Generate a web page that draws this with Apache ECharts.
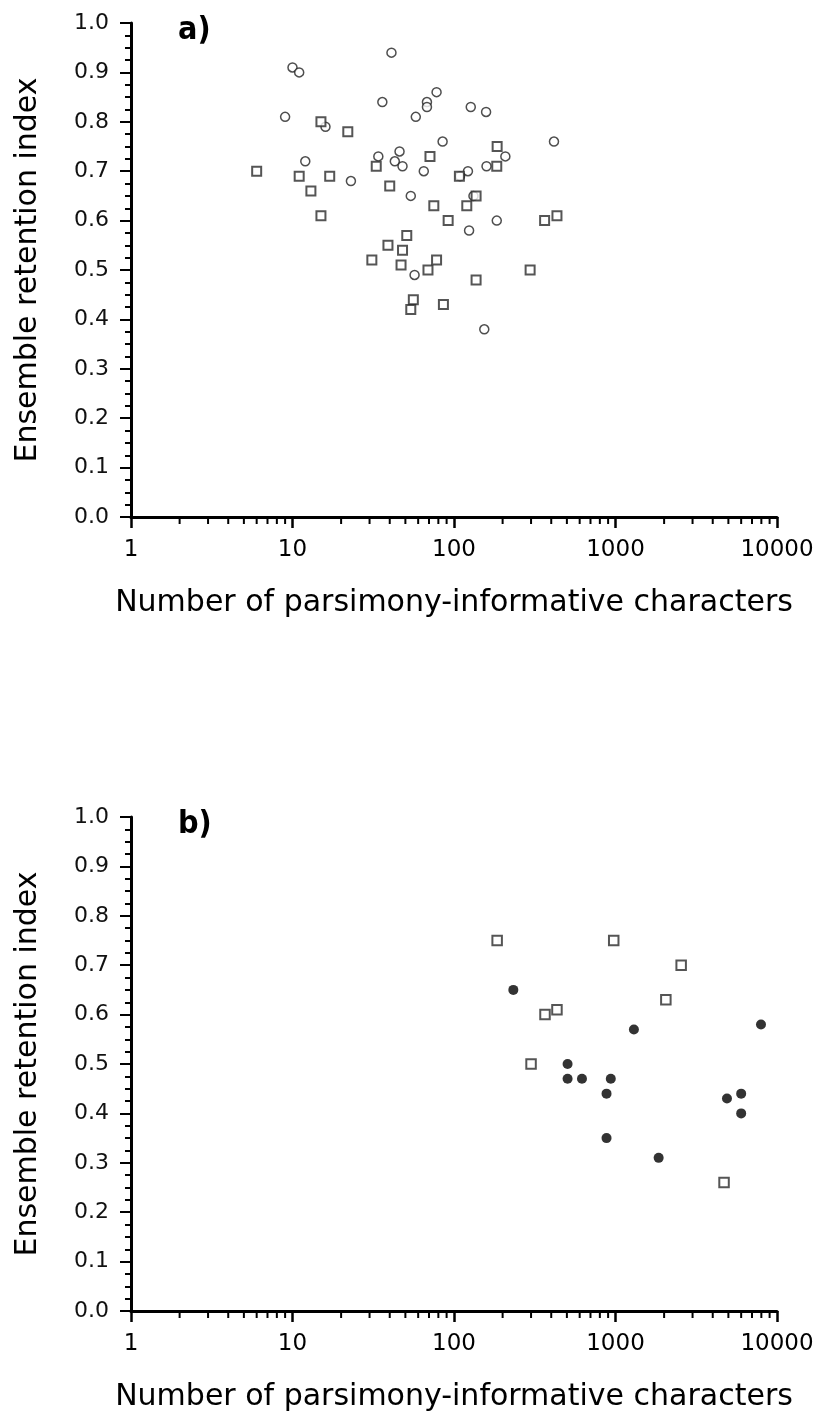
<!DOCTYPE html>
<html>
<head>
<meta charset="utf-8">
<script src="https://cdn.jsdelivr.net/npm/echarts@6/dist/echarts.min.js"></script>
<style>
html,body{margin:0;padding:0;background:#fff;}
#chart{width:819px;height:1416px;}
</style>
</head>
<body>
<div id="chart"></div>
<script>
// ---- data (x = number of parsimony-informative characters, y = ensemble retention index)
var panelAOpenCircles = [
  [41,0.94],[10,0.91],[11,0.90],[36,0.84],[68,0.84],[68,0.83],[78,0.86],[9,0.81],[58,0.81],[16,0.79],
  [85,0.76],[12,0.72],[34,0.73],[46,0.74],[43,0.72],[48,0.71],[65,0.70],[23,0.68],[54,0.65],[57,0.49],
  [127,0.83],[158,0.82],[416,0.76],[208,0.73],[122,0.70],[159,0.71],[109,0.69],[132,0.65],[184,0.60],
  [124,0.58],[154,0.38]
];
var panelAOpenSquares = [
  [6,0.70],[15,0.80],[22,0.78],[11,0.69],[17,0.69],[13,0.66],[15,0.61],[33,0.71],[40,0.67],[71,0.73],
  [75,0.63],[92,0.60],[51,0.57],[39,0.55],[48,0.54],[31,0.52],[47,0.51],[69,0.50],[78,0.52],[108,0.69],
  [56,0.44],[54,0.42],[86,0.43],[185,0.75],[184,0.71],[120,0.63],[137,0.65],[364,0.60],[434,0.61],
  [296,0.50],[137,0.48]
];
var panelBOpenSquares = [
  [185,0.75],[975,0.75],[2550,0.70],[2050,0.63],[366,0.60],[434,0.61],[300,0.50],[4700,0.26]
];
var panelBFilledCircles = [
  [233,0.65],[1300,0.57],[7960,0.58],[505,0.50],[505,0.47],[620,0.47],[935,0.47],[880,0.44],
  [880,0.35],[1850,0.31],[4900,0.43],[6000,0.44],[6000,0.40]
];
var panelLabels = ['a)', 'b)'];
var xTitle = 'Number of parsimony-informative characters';
var yTitle = 'Ensemble retention index';
var xMinorTickValues = [];
[1,10,100,1000].forEach(function(d){ for (var k=2;k<=9;k++) xMinorTickValues.push(d*k); });

// ---- chart
var chart = echarts.init(document.getElementById('chart'), null, {renderer:'canvas'});
var grids = [
  {left:131, top:23, width:646, height:494},
  {left:131, top:817, width:646, height:494}
];
function xAxisCfg(i){
  return {
    type:'log', logBase:10, min:1, max:10000, gridIndex:i,
    name:xTitle, nameLocation:'middle', nameGap:71,
    nameTextStyle:{fontFamily:'DejaVu Sans', fontSize:30, color:'#000'},
    axisLine:{show:true, onZero:false, lineStyle:{color:'#000', width:3}},
    axisTick:{show:true, inside:false, length:11, lineStyle:{color:'#000', width:2.5}},
    minorTick:{show:false},
    splitLine:{show:false}, minorSplitLine:{show:false},
    axisLabel:{fontFamily:'DejaVu Sans', fontSize:23, color:'#000', margin:22,
      formatter:function(v){ return String(Math.round(v)); }}
  };
}
function yAxisCfg(i){
  return {
    type:'value', min:0, max:1, interval:0.1, gridIndex:i,
    name:yTitle, nameLocation:'middle', nameGap:88,
    nameTextStyle:{fontFamily:'DejaVu Sans', fontSize:30, color:'#000'},
    axisLine:{show:true, onZero:false, lineStyle:{color:'#000', width:3}},
    axisTick:{show:true, inside:false, length:11, lineStyle:{color:'#000', width:2}},
    minorTick:{show:true, splitNumber:4, length:6, lineStyle:{color:'#000', width:2}},
    splitLine:{show:false}, minorSplitLine:{show:false},
    axisLabel:{fontFamily:'DejaVu Sans', fontSize:22, color:'#111', margin:22,
      formatter:function(v){ return v.toFixed(1); }}
  };
}
function minorTickSeries(i){
  return {
    type:'custom', xAxisIndex:i, yAxisIndex:i, silent:true, clip:false, z:5,
    data: xMinorTickValues.map(function(v){ return [v,0]; }),
    renderItem:function(params, api){
      var p = api.coord([api.value(0), 0]);
      return {type:'line', shape:{x1:p[0], y1:p[1], x2:p[0], y2:p[1]+7},
        style:{stroke:'#000', lineWidth:2}};
    }
  };
}
var openCircleStyle = {color:'#fff', borderColor:'#222', borderWidth:1.5};
var openSquareStyle = {color:'#fff', borderColor:'#2a2a2a', borderWidth:2};

chart.setOption({
  animation:false,
  backgroundColor:'#fff',
  grid:grids,
  xAxis:[xAxisCfg(0), xAxisCfg(1)],
  yAxis:[yAxisCfg(0), yAxisCfg(1)],
  graphic:[
    {type:'text', left:178, top:15, style:{text:panelLabels[0], font:'bold 32px "DejaVu Sans Condensed", "DejaVu Sans", sans-serif', fill:'#000'}},
    {type:'text', left:178, top:809, style:{text:panelLabels[1], font:'bold 32px "DejaVu Sans Condensed", "DejaVu Sans", sans-serif', fill:'#000'}}
  ],
  series:[
    minorTickSeries(0), minorTickSeries(1),
    {type:'scatter', xAxisIndex:0, yAxisIndex:0, symbol:'circle', symbolSize:9, data:panelAOpenCircles, itemStyle:openCircleStyle, z:3},
    {type:'scatter', xAxisIndex:0, yAxisIndex:0, symbol:'rect', symbolSize:9, data:panelAOpenSquares, itemStyle:openSquareStyle, z:3},
    {type:'scatter', xAxisIndex:1, yAxisIndex:1, symbol:'rect', symbolSize:9.5, data:panelBOpenSquares, itemStyle:openSquareStyle, z:3},
    {type:'scatter', xAxisIndex:1, yAxisIndex:1, symbol:'circle', symbolSize:10, data:panelBFilledCircles, itemStyle:{color:'#000'}, z:3}
  ]
});
</script>
</body>
</html>
